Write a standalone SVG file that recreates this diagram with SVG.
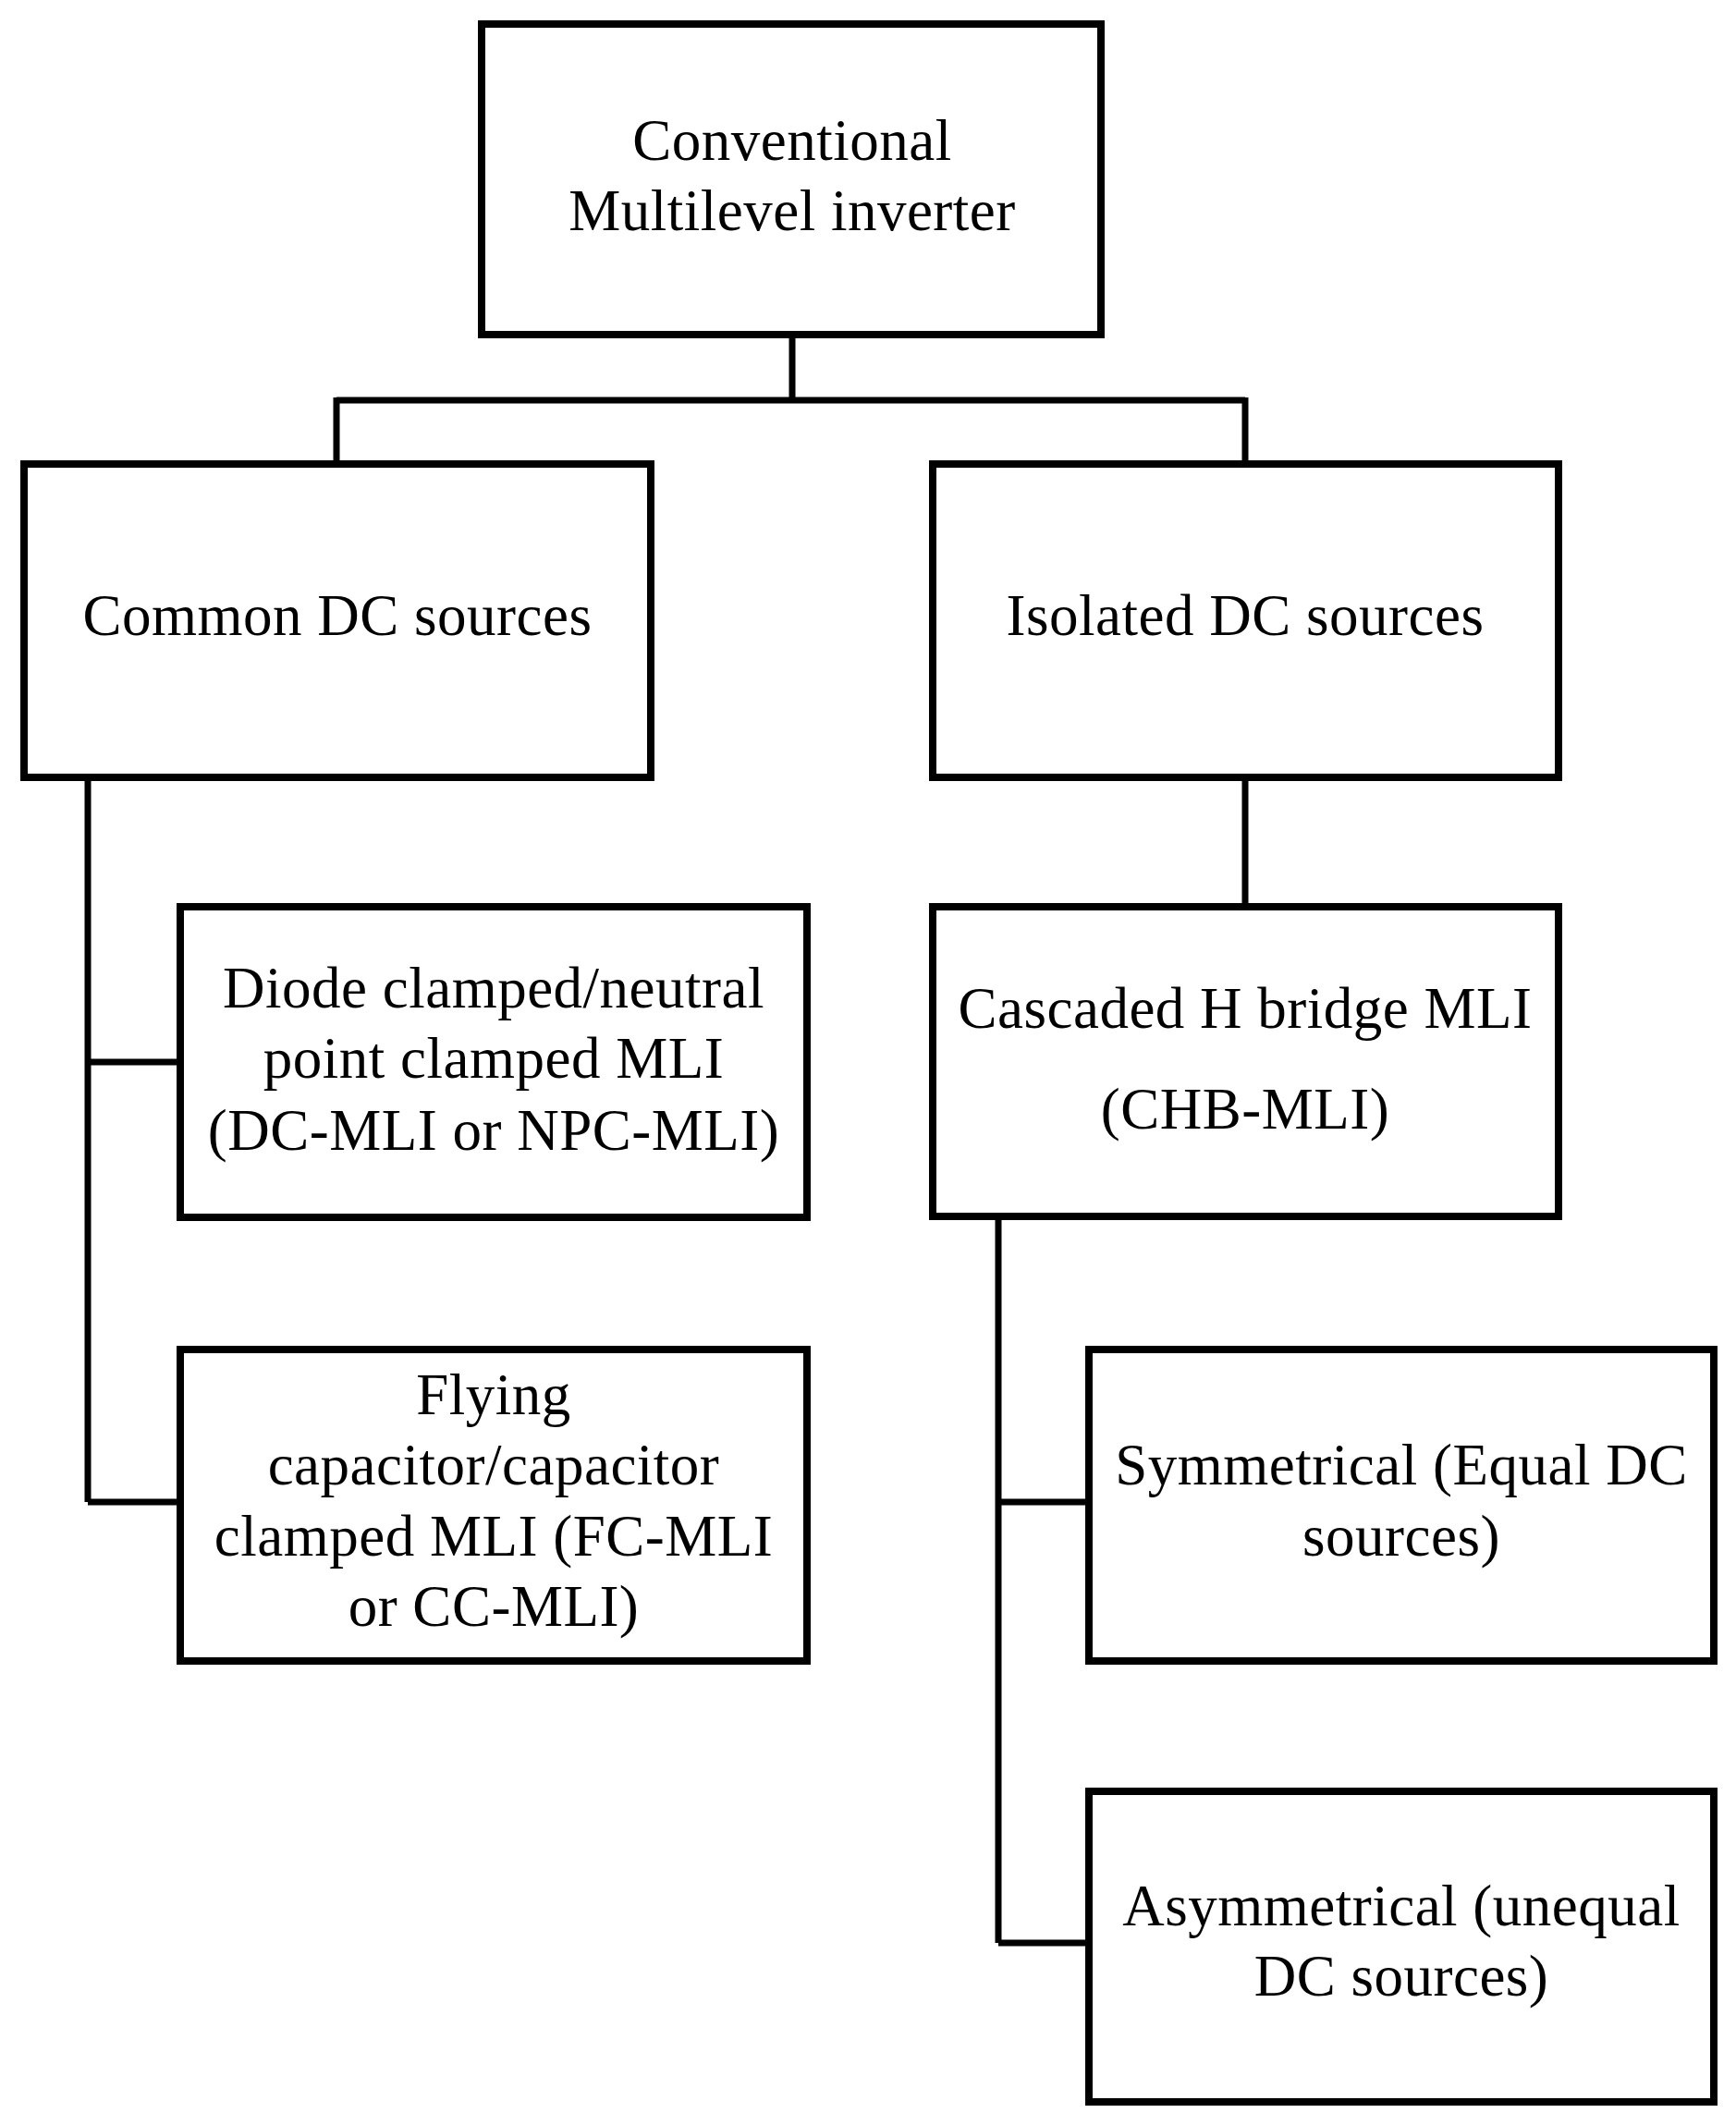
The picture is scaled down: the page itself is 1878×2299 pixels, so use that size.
<svg xmlns="http://www.w3.org/2000/svg" width="1878" height="2299" viewBox="0 0 1878 2299">
<style>
rect{fill:#fff;stroke:#000;stroke-width:8}
text{font-family:"Liberation Serif",serif;font-size:63px;text-anchor:middle;fill:#000;letter-spacing:0.5px}
.c{fill:none;stroke:#000;stroke-width:7}
</style>
<rect x="0" y="0" width="1878" height="2299" style="stroke:none"/>
<g id="connectors">
<path class="c" d="M857 362V433M364 433H1347M364 430V502M1347 430V502"/>
<path class="c" d="M95 841V1625M95 1149H195M95 1625H195"/>
<path class="c" d="M1347 841V981"/>
<path class="c" d="M1080 1316V2102M1080 1625H1178M1080 2102H1178"/>
</g>
<g id="root"><rect x="521" y="26" width="670" height="336"/><text x="857" y="173">Conventional</text><text x="857" y="249">Multilevel inverter</text></g>
<g id="common"><rect x="26" y="502" width="678" height="339"/><text x="365" y="687">Common DC sources</text></g>
<g id="isolated"><rect x="1009" y="502" width="677" height="339"/><text x="1347" y="687">Isolated DC sources</text></g>
<g id="diode"><rect x="195" y="981" width="678" height="336"/><text x="534" y="1090">Diode clamped/neutral</text><text x="534" y="1166">point clamped MLI</text><text x="534" y="1244">(DC-MLI or NPC-MLI)</text></g>
<g id="flying"><rect x="195" y="1460" width="678" height="337"/><text x="534" y="1530">Flying</text><text x="534" y="1606">capacitor/capacitor</text><text x="534" y="1683">clamped MLI (FC-MLI</text><text x="534" y="1759">or CC-MLI)</text></g>
<g id="chb"><rect x="1009" y="981" width="677" height="335"/><text x="1347" y="1112">Cascaded H bridge MLI</text><text x="1347" y="1221">(CHB-MLI)</text></g>
<g id="sym"><rect x="1178" y="1460" width="676" height="337"/><text x="1516" y="1606">Symmetrical (Equal DC</text><text x="1516" y="1683">sources)</text></g>
<g id="asym"><rect x="1178" y="1938" width="676" height="336"/><text x="1516" y="2083">Asymmetrical (unequal</text><text x="1516" y="2159">DC sources)</text></g>
</svg>
